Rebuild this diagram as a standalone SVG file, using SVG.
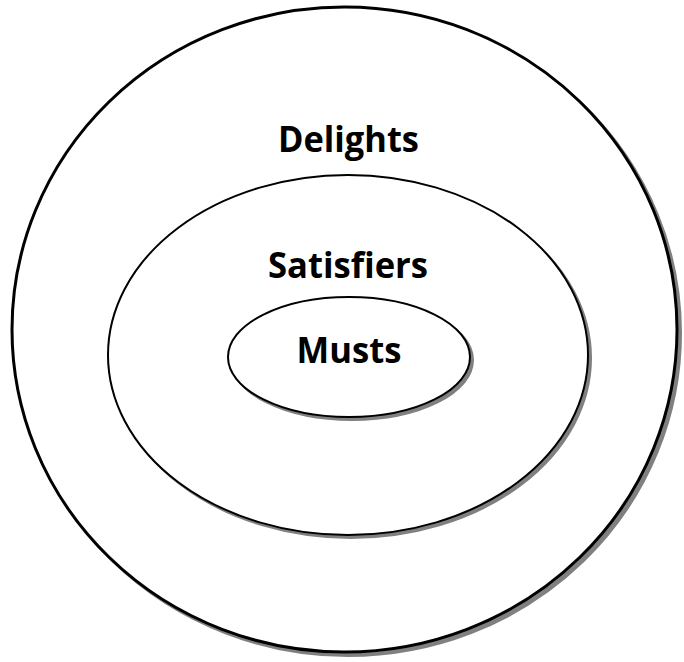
<svg xmlns="http://www.w3.org/2000/svg" width="684" height="662" viewBox="0 0 684 662">
<style>
.shadow{fill:#808080;stroke:#808080}
.ring{fill:#fff;stroke:#000}
.lbl{font-family:"Open Sans","Noto Sans","Liberation Sans",sans-serif;font-weight:bold;font-size:35px;fill:#000;text-anchor:middle}
</style>
<rect width="684" height="662" fill="#fff"/>
<g id="delights">
<ellipse class="shadow" cx="348" cy="333" rx="332.5" ry="322.5" stroke-width="3"/>
<ellipse class="ring" cx="344.5" cy="329.5" rx="332.5" ry="322.5" stroke-width="3"/>
<text class="lbl" x="348.5" y="152" textLength="141" lengthAdjust="spacingAndGlyphs">Delights</text>
</g>
<g id="satisfiers">
<ellipse class="shadow" cx="351" cy="358" rx="240" ry="180" stroke-width="2"/>
<ellipse class="ring" cx="348" cy="355" rx="240" ry="180" stroke-width="2"/>
<text class="lbl" x="348" y="277.5" textLength="160" lengthAdjust="spacingAndGlyphs">Satisfiers</text>
</g>
<g id="musts">
<ellipse class="shadow" cx="352" cy="360" rx="121" ry="60" stroke-width="2"/>
<ellipse class="ring" cx="349" cy="357" rx="121" ry="60" stroke-width="2"/>
<text class="lbl" x="349" y="363" textLength="105" lengthAdjust="spacingAndGlyphs">Musts</text>
</g>
<g id="connectors"/>
</svg>
